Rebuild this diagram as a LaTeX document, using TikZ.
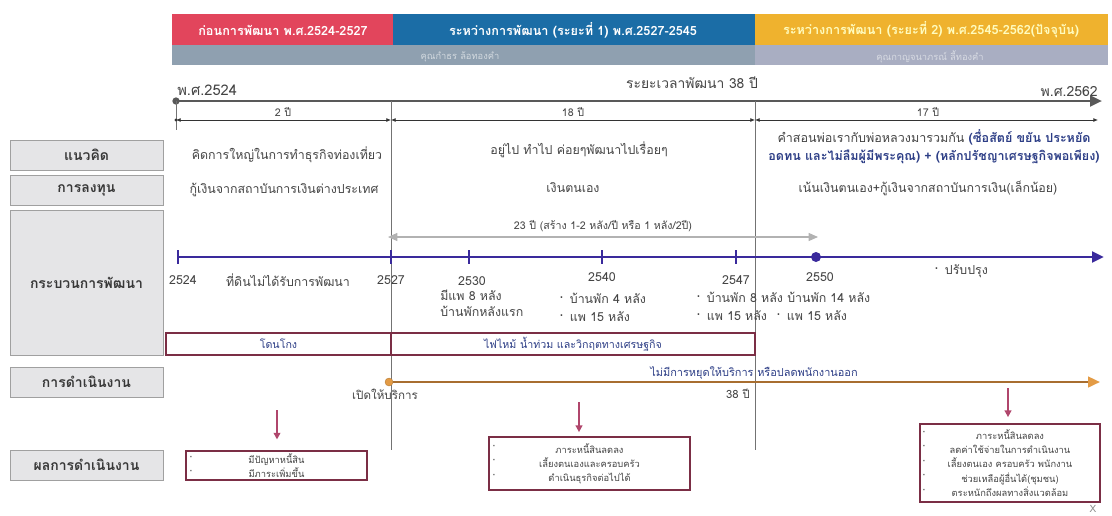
\documentclass[tikz,border=0pt]{standalone}
\usepackage{fontspec}
\setmainfont[Script=Thai]{Loma}
\usetikzlibrary{arrows.meta,calc}
\definecolor{hdrred}{HTML}{E2455C}
\definecolor{hdrblue}{HTML}{1B6DA6}
\definecolor{hdrorange}{HTML}{EFB22E}
\definecolor{subgrayA}{HTML}{8FA0B0}
\definecolor{subgrayB}{HTML}{A9AEC2}
\definecolor{lblfill}{HTML}{E5E5E7}
\definecolor{lbldraw}{HTML}{A0A0A0}
\definecolor{indigo}{HTML}{3A2A9C}
\definecolor{boxred}{HTML}{7B2E45}
\definecolor{arrpink}{HTML}{B0466C}
\definecolor{txtblue}{HTML}{2D3E86}
\definecolor{txtgray}{HTML}{444444}
\definecolor{opline}{HTML}{A86E30}
\definecolor{oporange}{HTML}{E39B45}
\tikzset{
  hdrtext/.style={font=\fontsize{9.5}{11}\selectfont\bfseries, text=white, inner sep=0},
  subtext/.style={font=\fontsize{7}{8}\selectfont, inner sep=0},
  lbl/.style={draw=lbldraw, fill=lblfill, line width=0.6pt, minimum width=114.75pt,
      font=\fontsize{10.5}{12}\selectfont\bfseries, text=black!78, inner sep=0},
  body/.style={font=\fontsize{9.3}{11}\selectfont, text=txtgray, inner sep=0},
  durarrow/.style={line width=0.6pt, black!80, {Latex[length=3.5pt,width=3pt]}-{Latex[length=3.5pt,width=3pt]}},
  vline/.style={line width=0.7pt, black!55},
  tick/.style={line width=2pt, indigo},
  redbox/.style={draw=boxred, line width=0.9pt, fill=white, inner sep=0,
      font=\fontsize{8}{10}\selectfont, text=txtblue},
  resbox/.style={draw=boxred, line width=1.3pt, fill=white, inner sep=0, align=center,
      font=\fontsize{7}{10.6}\selectfont, text=txtgray},
  resarrow/.style={line width=1.2pt, arrpink, -{Triangle[length=5pt,width=5pt]}},
  bullet/.style={font=\fontsize{7}{8}\selectfont, text=txtgray, inner sep=0}
}
\begin{document}
\begin{tikzpicture}[x=0.75pt,y=-0.75pt]
\useasboundingbox (0,0) rectangle (1112,515);
% header
\fill[hdrred] (172,14) rectangle (393,45);
\fill[hdrblue] (393,14) rectangle (755,45);
\fill[hdrorange] (755,14) rectangle (1108,45);
\fill[subgrayA] (172,45) rectangle (755,65);
\fill[subgrayB] (755,45) rectangle (1108,65);
\node[hdrtext] (h1) at (283,30) {ก่อนการพัฒนา พ.ศ.2524-2527};
\node[hdrtext] (h2) at (573,30) {ระหว่างการพัฒนา (ระยะที่ 1) พ.ศ.2527-2545};
\node[hdrtext, text=yellow!25] (h3) at (931,30) {ระหว่างการพัฒนา (ระยะที่ 2) พ.ศ.2545-2562(ปัจจุบัน)};
\node[subtext, text=white!60!subgrayA] (s1) at (460,57) {คุณกำธร ล้อทองคำ};
\node[subtext, text=white!55!subgrayB] (s2) at (930,57) {คุณกาญจนาภรณ์ ลี้ทองคำ};
% main timeline
\node[circle, fill=black!65, inner sep=0, minimum size=5.5pt] (t0) at (176,101) {};
\coordinate (t1) at (1102,101);
\draw[line width=2pt, black!65, -{Triangle[length=9pt,width=8pt]}] (t0.center) -- (t1);
\node[body, font=\fontsize{11}{13}\selectfont, anchor=west] (y0) at (177,90) {พ.ศ.2524};
\node[body, font=\fontsize{10.5}{12}\selectfont, anchor=east] (y1) at (1098,92) {พ.ศ.2562};
\node[body, font=\fontsize{10.4}{12}\selectfont] (dur) at (692,83) {ระยะเวลาพัฒนา 38 ปี};
% vertical dividers
\coordinate (v0a) at (176,101); \coordinate (v0b) at (176,130);
\coordinate (v1a) at (391,101); \coordinate (v1b) at (391,450);
\coordinate (v2a) at (755,101); \coordinate (v2b) at (755,450);
\draw[vline] (v0a) -- (v0b);
\draw[vline] (v1a) -- (v1b);
\draw[vline] (v2a) -- (v2b);
% durations
\coordinate (d0) at (176,120); \coordinate (d1) at (391,120);
\coordinate (d2) at (755,120); \coordinate (d3) at (1098,120);
\fill[black!80] (d0) circle (1.6);
\draw[durarrow] (d0) -- (d1);
\draw[durarrow] (d1) -- (d2);
\draw[durarrow] (d2) -- (d3);
\node[body, font=\fontsize{8}{10}\selectfont] (p1) at (283,112) {2 ปี};
\node[body, font=\fontsize{8}{10}\selectfont] (p2) at (573,112) {18 ปี};
\node[body, font=\fontsize{8}{10}\selectfont] (p3) at (928,112) {17 ปี};
% left labels
\node[lbl, minimum height=22.5pt] (L1) at (86.5,155) {แนวคิด};
\node[lbl, minimum height=22.5pt] (L2) at (86.5,190) {\raisebox{-1.5pt}{การลงทุน}};
\node[lbl, minimum height=108.75pt] (L3) at (86.5,282.5) {กระบวนการพัฒนา};
\node[lbl, minimum height=22.5pt] (L4) at (86.5,382) {การดำเนินงาน};
\node[lbl, minimum height=22.5pt] (L5) at (86.5,465) {ผลการดำเนินงาน};
% concept row
\node[body] (c1) at (287,155) {คิดการใหญ่ในการทำธุรกิจท่องเที่ยว};
\node[body] (c2) at (579,150) {อยู่ไป ทำไป ค่อยๆพัฒนาไปเรื่อยๆ};
\node[body, align=center, font=\fontsize{9.4}{13.5}\selectfont] (c3) at (934,146.5) {คำสอนพ่อเรากับพ่อหลวงมารวมกัน \textcolor{txtblue}{\bfseries(ซื่อสัตย์ ขยัน ประหยัด}\\\textcolor{txtblue}{\bfseries อดทน และไม่ลืมผู้มีพระคุณ) + (หลักปรัชญาเศรษฐกิจพอเพียง)}};
% investment row
\node[body] (i1) at (284,190) {กู้เงินจากสถาบันการเงินต่างประเทศ};
\node[body] (i2) at (573,188) {เงินตนเอง};
\node[body] (i3) at (928,188) {เน้นเงินตนเอง+กู้เงินจากสถาบันการเงิน(เล็กน้อย)};
% 23 years arrow
\coordinate (g0) at (388,237); \coordinate (g1) at (818,237);
\draw[line width=0.9pt, black!30, {Triangle[length=7pt,width=6pt]}-{Triangle[length=7pt,width=6pt]}] (g0) -- (g1);
\node[body, font=\fontsize{8}{10}\selectfont] (g) at (603,226) {23 ปี (สร้าง 1-2 หลัง/ปี หรือ 1 หลัง/2ปี)};
% process line
\coordinate (k0) at (178,257); \coordinate (k1) at (1104,257);
\draw[line width=2.2pt, indigo, -{Triangle[length=9pt,width=8pt]}] (k0) -- (k1);
\foreach \xx in {178,391,469,602,736} \draw[tick] (\xx,250) -- (\xx,264);
\node[circle, fill=indigo, inner sep=0, minimum size=7.5pt] (k2550) at (816,257) {};
\node[body] (n2524) at (183,280) {2524};
\node[body] (nland) at (288,280) {ที่ดินไม่ได้รับการพัฒนา};
\node[body] (n2527) at (391,280) {2527};
\node[body] (n2530) at (472,281) {2530};
\node[body, anchor=west] (n2530a) at (440,295) {มีแพ 8 หลัง};
\node[body, anchor=west] (n2530b) at (440,311) {บ้านพักหลังแรก};
\node[body] (n2540) at (602,277) {2540};
\node[body, anchor=west] (n2540a) at (559,298) {·\, บ้านพัก 4 หลัง};
\node[body, anchor=west] (n2540b) at (559,317) {·\, แพ 15 หลัง};
\node[body] (n2547) at (736,280) {2547};
\node[body, anchor=west] (n2547a) at (696,297) {·\, บ้านพัก 8 หลัง};
\node[body, anchor=west] (n2547b) at (696,316) {·\, แพ 15 หลัง};
\node[body] (n2550) at (820,277) {2550};
\node[body, anchor=west] (n2550a) at (787,297) {บ้านพัก 14 หลัง};
\node[body, anchor=west] (n2550b) at (776,316) {·\, แพ 15 หลัง};
\node[body, anchor=west] (nfix) at (934,271) {·\, ปรับปรุง};
% crisis boxes
\node[redbox, minimum width=168.75pt, minimum height=16.5pt] (b1) at (278.5,344) {โดนโกง};
\node[redbox, minimum width=273pt, minimum height=16.5pt] (b2) at (573,344) {ไฟไหม้ น้ำท่วม และวิกฤตทางเศรษฐกิจ};
% operation line
\node[circle, fill=oporange, draw=oporange!80!black, line width=0.3pt, inner sep=0, minimum size=6pt] (o0) at (389,382) {};
\coordinate (o1) at (1100,382);
\draw[line width=1.8pt, opline, -{Triangle[length=9pt,width=8pt,color=oporange]}] (o0) -- (o1);
\node[body, font=\fontsize{8.2}{10}\selectfont, text=txtblue] (onote) at (754,373) {ไม่มีการหยุดให้บริการ หรือปลดพนักงานออก};
\node[body, font=\fontsize{8.7}{10}\selectfont] (open) at (385,394) {เปิดให้บริการ};
\node[body, font=\fontsize{8.5}{10}\selectfont, anchor=east] (y38) at (750,394) {38 ปี};
% result boxes
\node[resbox, minimum width=135.75pt, minimum height=21.75pt] (r1) at (276.5,465.5) {มีปัญหาหนี้สิน\\มีภาระเพิ่มขึ้น};
\node[resbox, minimum width=150.75pt, minimum height=39.75pt] (r2) at (589.5,463.5) {ภาระหนี้สินลดลง\\เลี้ยงตนเองและครอบครัว\\ดำเนินธุรกิจต่อไปได้};
\node[resbox, minimum width=135pt, minimum height=58.5pt] (r3) at (1010,463) {ภาระหนี้สินลดลง\\ลดค่าใช้จ่ายในการดำเนินงาน\\เลี้ยงตนเอง ครอบครัว พนักงาน\\ช่วยเหลือผู้อื่นได้(ชุมชน)\\ตระหนักถึงผลทางสิ่งแวดล้อม};
\foreach \yy in {459,473} \node[bullet] at (191,\yy) {·};
\foreach \yy in {448,462,477} \node[bullet] at (494,\yy) {·};
\foreach \yy in {434,448,463,477,492} \node[bullet] at (924,\yy) {·};
\coordinate (a1) at (277,410);
\coordinate (a2) at (579,402);
\coordinate (a3) at (1008,388);
\draw[resarrow, shorten >=8pt] (a1) -- (a1 |- r1.north);
\draw[resarrow, shorten >=3pt] (a2) -- (a2 |- r2.north);
\draw[resarrow, shorten >=4.5pt] (a3) -- (a3 |- r3.north);
\node[body, font=\fontsize{7.5}{9}\selectfont, text=black!45] (xx) at (1093,509) {X};
\end{tikzpicture}
\end{document}
